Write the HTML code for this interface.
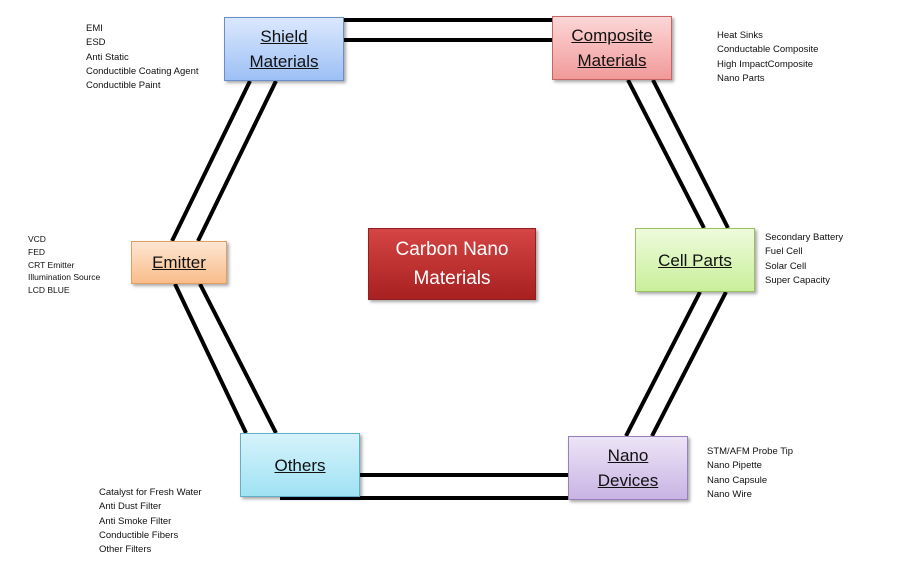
<!DOCTYPE html>
<html><head><style>
body{margin:0;width:912px;height:576px;background:#fff;position:relative;overflow:hidden;font-family:"Liberation Sans",sans-serif}
.b{position:absolute;box-sizing:border-box;display:flex;align-items:center;justify-content:center;text-align:center;font-size:17px;line-height:25px;color:#111;box-shadow:2px 2px 3px rgba(0,0,0,.35)}
.b span{text-decoration:underline}
.t{position:absolute;font-size:9.5px;line-height:14.3px;color:#111;white-space:nowrap}
</style></head><body>
<svg width="912" height="576" style="position:absolute;left:0;top:0" stroke="#000" stroke-width="4">
<line x1="344" y1="20" x2="552" y2="20"/><line x1="344" y1="40" x2="552" y2="40"/>
<line x1="360" y1="475" x2="568" y2="475"/><line x1="280" y1="498" x2="568" y2="498"/>
<line x1="250" y1="81" x2="172" y2="241"/><line x1="276" y1="81" x2="198" y2="241"/>
<line x1="175" y1="284" x2="246" y2="433"/><line x1="200" y1="284" x2="276" y2="433"/>
<line x1="628" y1="80" x2="704" y2="228"/><line x1="653" y1="80" x2="728" y2="228"/>
<line x1="700" y1="292" x2="626" y2="436"/><line x1="726" y1="292" x2="652" y2="436"/>
</svg>
<div class="b" style="left:224px;top:17px;width:120px;height:64px;background:linear-gradient(#dbe8fd,#9dc0f5);border:1px solid #6a8fc8"><span>Shield<br>Materials</span></div>
<div class="b" style="left:552px;top:16px;width:120px;height:64px;background:linear-gradient(#fcd6d6,#f19a9a);border:1px solid #c86464"><span>Composite<br>Materials</span></div>
<div class="b" style="left:131px;top:241px;width:96px;height:43px;background:linear-gradient(#fde6d2,#f9bd8a);border:1px solid #e0a060"><span>Emitter</span></div>
<div class="b" style="left:368px;top:228px;width:168px;height:72px;background:linear-gradient(#d54545,#a82020);border:1px solid #902020;color:#fff;font-size:19px;line-height:29px">Carbon Nano<br>Materials</div>
<div class="b" style="left:635px;top:228px;width:120px;height:64px;background:linear-gradient(#eefbdc,#c9ef9a);border:1px solid #9cc060"><span>Cell Parts</span></div>
<div class="b" style="left:240px;top:433px;width:120px;height:64px;background:linear-gradient(#d6f3fb,#a0e2f4);border:1px solid #60b0c8"><span>Others</span></div>
<div class="b" style="left:568px;top:436px;width:120px;height:64px;background:linear-gradient(#ece4f6,#c9b4e4);border:1px solid #9880b8"><span>Nano<br>Devices</span></div>
<div class="t" style="left:86px;top:22px">EMI<br>ESD<br>Anti Static<br>Conductible Coating Agent<br>Conductible Paint</div>
<div class="t" style="left:717px;top:29px">Heat Sinks<br>Conductable Composite<br>High ImpactComposite<br>Nano Parts</div>
<div class="t" style="left:28px;top:233px;font-size:8.5px;line-height:12.8px">VCD<br>FED<br>CRT Emitter<br>Illumination Source<br>LCD BLUE</div>
<div class="t" style="left:765px;top:231px">Secondary Battery<br>Fuel Cell<br>Solar Cell<br>Super Capacity</div>
<div class="t" style="left:707px;top:445px">STM/AFM Probe Tip<br>Nano Pipette<br>Nano Capsule<br>Nano Wire</div>
<div class="t" style="left:99px;top:486px">Catalyst for Fresh Water<br>Anti Dust Filter<br>Anti Smoke Filter<br>Conductible Fibers<br>Other Filters</div>
</body></html>
